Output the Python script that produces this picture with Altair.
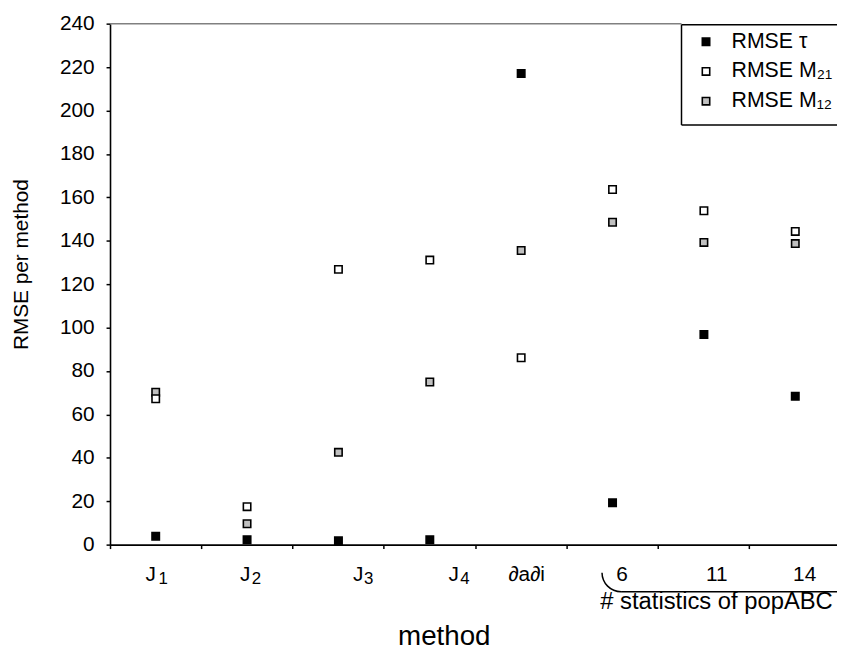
import math
import altair as alt
import pandas as pd

# ---- data ----
METHODS = ["J1", "J2", "J3", "J4", "∂a∂i", "6", "11", "14"]
LABEL_MAIN = ["J", "J", "J", "J", "∂a∂i", "6", "11", "14"]
LABEL_SUB = ["1", "2", "3", "4", "", "", "", ""]
SERIES = ["RMSE τ", "RMSE M₂₁", "RMSE M₁₂"]
RMSE_TAU = [3.8, 2.3, 1.8, 2.3, 217.0, 19.3, 96.8, 68.3]
RMSE_M21 = [67.2, 17.5, 126.8, 131.1, 86.1, 163.6, 153.8, 144.3]
RMSE_M12 = [70.2, 9.6, 42.5, 74.9, 135.5, 148.5, 139.2, 138.7]
Y_TICKS = list(range(0, 241, 20))
GROUP_LABEL = "# statistics of popABC"

rows = []
# drawing order: tau, M12, M21 (M21 on top)
for name, vals in [(SERIES[0], RMSE_TAU), (SERIES[2], RMSE_M12), (SERIES[1], RMSE_M21)]:
    for m, v in zip(METHODS, vals):
        rows.append({"method": m, "series": name, "rmse": v})
df = pd.DataFrame(rows)
labels_df = pd.DataFrame({"method": METHODS, "main": LABEL_MAIN, "sub": LABEL_SUB})
dummy = pd.DataFrame({"k": [0]})

# ---- style ----
W, H = 734, 526
XRANGE = 738
FONT = "Liberation Sans"
MAIN_DX = [-5, -2, 20, 24, 5.5, 9.5, 13, 9.5]
SUB_DX = [7.5, 9.5, 30.5, 35.5]
LEG_L, LEG_T, LEG_B = 577, 1, 102.3

xscale = alt.Scale(type="band", domain=METHODS, range=[0, XRANGE], paddingInner=0, paddingOuter=0)


def xenc(**kw):
    return alt.X("method:N", scale=xscale, sort=METHODS, **kw)


points = alt.Chart(df).mark_point(
    shape="square", filled=True, size=56, stroke="black", strokeWidth=1.6, opacity=1
).encode(
    x=xenc(axis=alt.Axis(
        labels=False, title="method", titleFontSize=28, titleFont=FONT,
        titleFontWeight="normal", titleColor="black", titleX=337, titleY=101.3,
        titleAlign="center", titleBaseline="alphabetic", tickSize=4, tickColor="black",
        tickWidth=1.5, domainColor="black", domainWidth=1.6, bandPosition=0, grid=False,
    )),
    y=alt.Y("rmse:Q", scale=alt.Scale(domain=[0, 240], nice=False), axis=alt.Axis(
        values=Y_TICKS, title="RMSE per method", titleFontSize=21, titleFont=FONT,
        titleFontWeight="normal", titleColor="black", titleX=-89, titleY=242.8,
        titleAngle=270, titleAlign="center", titleBaseline="middle",
        labelFontSize=21, labelFont=FONT, labelColor="black", labelPadding=12,
        tickSize=4, tickColor="black", tickWidth=1.5, domainColor="black",
        domainWidth=1.6, grid=False,
    )),
    fill=alt.Fill("series:N", scale=alt.Scale(domain=SERIES, range=["black", "white", "#c0c0c0"]),
                  legend=alt.Legend(
                      title=None, orient="none", legendX=LEG_L, legendY=-2.5,
                      symbolType="square", symbolSize=56, symbolStrokeColor="black",
                      symbolStrokeWidth=1.6, labelFontSize=21.5, labelFont=FONT,
                      labelColor="black", padding=10, symbolOffset=4, labelOffset=15,
                      rowPadding=7,
                  )),
)

# white legend background + border open to the right edge
leg_bg = alt.Chart(dummy).mark_rect(color="white").encode(
    x=alt.value(LEG_L), x2=alt.value(XRANGE), y=alt.value(LEG_T), y2=alt.value(LEG_B)
)
top_line = alt.Chart(dummy).mark_rule(color="#808080", strokeWidth=1.5).encode(
    x=alt.value(0), x2=alt.value(LEG_L), y=alt.value(0)
)
leg_top = alt.Chart(dummy).mark_rule(color="black", strokeWidth=1.5).encode(
    x=alt.value(LEG_L), x2=alt.value(XRANGE), y=alt.value(LEG_T)
)
leg_bottom = alt.Chart(dummy).mark_rule(color="black", strokeWidth=1.5).encode(
    x=alt.value(LEG_L), x2=alt.value(XRANGE), y=alt.value(LEG_B)
)
leg_left = alt.Chart(dummy).mark_rule(color="black", strokeWidth=1.5).encode(
    x=alt.value(LEG_L), y=alt.value(LEG_T), y2=alt.value(LEG_B)
)

label_layers = []
for i, m in enumerate(METHODS):
    base = alt.Chart(labels_df).transform_filter(alt.datum.method == m)
    label_layers.append(
        base.mark_text(dx=MAIN_DX[i], align="center", baseline="alphabetic",
                       fontSize=21, font=FONT, color="black")
        .encode(x=xenc(), y=alt.value(562.3), text="main:N")
    )
    if LABEL_SUB[i]:
        label_layers.append(
            base.mark_text(dx=SUB_DX[i], align="center", baseline="alphabetic",
                           fontSize=17, font=FONT, color="black")
            .encode(x=xenc(), y=alt.value(565.3), text="sub:N")
        )

brace_arc = alt.Chart(dummy).mark_arc(color="black").encode(
    x=alt.value(516), y=alt.value(554.3),
    theta=alt.value(math.pi), theta2=alt.value(1.5 * math.pi),
    radius=alt.value(20), radius2=alt.value(18.5),
)
brace_line = alt.Chart(dummy).mark_rule(color="black", strokeWidth=1.5).encode(
    x=alt.value(516), x2=alt.value(XRANGE), y=alt.value(573.55)
)
group_text = alt.Chart(dummy).mark_text(
    text=GROUP_LABEL, align="left", baseline="alphabetic", fontSize=24, font=FONT, color="black"
).encode(x=alt.value(495), y=alt.value(591.3))

chart = alt.layer(
    top_line, points, leg_bg, leg_top, leg_bottom, leg_left,
    *label_layers, brace_arc, brace_line, group_text
).properties(
    width=W, height=H,
    autosize=alt.AutoSizeParams(type="none"),
    padding={"left": 103, "top": 12.7, "right": 0, "bottom": 105},
    background="white",
).configure_view(stroke=None)

chart.save("out.html", embed_options={"renderer": "svg", "actions": False})
